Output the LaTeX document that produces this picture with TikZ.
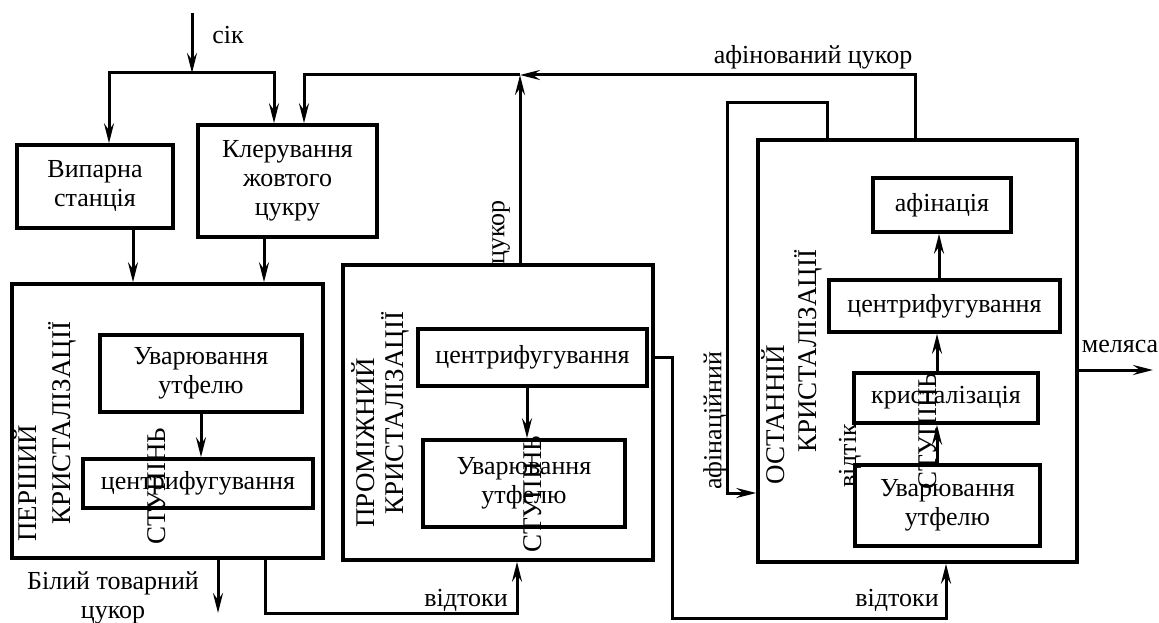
\documentclass[tikz,border=0pt]{standalone}
\usepackage{fontspec}
\setmainfont{Liberation Serif}
\usetikzlibrary{arrows.meta}

\begin{document}
\begin{tikzpicture}[x=1pt, y=-1pt, >={Stealth[length=20pt, width=10pt, inset=7pt]},
  font=\fontsize{26}{29}\selectfont,
  blok/.style={draw, line width=3.5pt, align=center, inner sep=2pt},
  potik/.style={->, line width=3pt},
  napys/.style={inner sep=0pt, align=center},
  vert/.style={rotate=90, anchor=west, inner sep=0pt, font=\fontsize{27}{30}\selectfont}]
  \useasboundingbox (0,0) rectangle (1159,623);
  % Блоки
  \node[blok, minimum width=156, minimum height=83] (vyp) at (95,186.5) {Випарна\\станція};
  \node[blok, minimum width=179, minimum height=112] (kler) at (287.5,181) {Клерування\\жовтого\\цукру};
  \node[blok, minimum width=311, minimum height=274] (st1) at (167.5,421) {};
  \node[blok, minimum width=202, minimum height=77] (uv1) at (201,373.5) {Уварювання\\утфелю};
  \node[blok, minimum width=230, minimum height=49] (cf1) at (198,483.5) {центрифугування};
  \node[blok, minimum width=310, minimum height=295] (st2) at (498,412.5) {};
  \node[blok, minimum width=229, minimum height=57] (cf2) at (532.5,357.5) {центрифугування};
  \node[blok, minimum width=202, minimum height=87] (uv2) at (524,483.5) {Уварювання\\утфелю};
  \node[blok, minimum width=319, minimum height=422] (st3) at (917.5,351) {};
  \node[blok, minimum width=138, minimum height=54] (af) at (942,205) {афінація};
  \node[blok, minimum width=231, minimum height=52] (cf3) at (944.5,306) {центрифугування};
  \node[blok, minimum width=184, minimum height=50] (kr) at (946,398) {кристалізація};
  \node[blok, minimum width=185, minimum height=81] (uv3) at (947.5,505.5) {Уварювання\\утфелю};
  % Назви ступенів
  \node[vert] (st1a) at (25,542) {ПЕРШИЙ};
  \node[vert] (st1b) at (62,525) {КРИСТАЛІЗАЦІЇ};
  \node[vert] (st1c) at (157,545) {СТУПІНЬ};
  \node[vert] (st2a) at (363,528) {ПРОМІЖНИЙ};
  \node[vert] (st2b) at (395,515) {КРИСТАЛІЗАЦІЇ};
  \node[vert] (st2c) at (533,553) {СТУПІНЬ};
  \node[vert] (st3a) at (773,485) {ОСТАННІЙ};
  \node[vert] (st3b) at (808,453) {КРИСТАЛІЗАЦІЇ};
  \node[vert] (st3c) at (928,490) {СТУПІНЬ};
  \node[vert, font=\fontsize{26}{29}\selectfont] (vidtik) at (850,488) {відтік};
  \node[vert, font=\fontsize{26}{29}\selectfont] (afin) at (715,490) {афінаційний};
  \node[vert, font=\fontsize{26}{29}\selectfont] (cukor) at (501,265) {цукор};
  % Підписи
  \node[napys] (sikl) at (228,35) {сік};
  \node[napys] (afc) at (813,57) {афінований цукор};
  \node[napys] (bil) at (113,598) {Білий товарний\\цукор};
  \node[napys] (vt1) at (466,600) {відтоки};
  \node[napys] (vt2) at (897,600) {відтоки};
  \node[napys] (mell) at (1120,346) {меляса};
  % Точки
  \coordinate (sik) at (192,13);
  \coordinate (j1) at (192,73);
  \coordinate (j2) at (520,75);
  \coordinate (a1) at (727,103);
  \coordinate (a2) at (727,493);
  \coordinate (v2) at (672,618);
  \coordinate (bilyj) at (218,613);
  \coordinate (mel) at (1153,370);
  % Сік
  \draw[potik] (sik) -- (j1);
  \draw[potik] (j1) -| ([xshift=14pt]vyp.north);
  \draw[potik] (j1) -| ([xshift=-13.5pt]kler.north);
  % Цукор і афінований цукор
  \draw[potik] ([xshift=-2.5pt]st3.north) |- (j2);
  \draw[potik] ([xshift=22pt]st2.north) -- (j2);
  \draw[potik] (j2) -| ([xshift=16.5pt]kler.north);
  % Перший ступінь
  \draw[potik] ([xshift=38pt]vyp.south) coordinate (p1) -- (p1 |- st1.north);
  \draw[potik] ([xshift=-23.5pt]kler.south) coordinate (p2) -- (p2 |- st1.north);
  \draw[potik] (uv1.south) -- (uv1.south |- cf1.north);
  \draw[potik] ([xshift=50.5pt]st1.south) -- (bilyj);
  \draw[potik] ([xshift=97.5pt]st1.south) -- ++(0,54) -| ([xshift=19pt]st2.south);
  % Проміжний ступінь
  \draw[potik] ([xshift=-5.5pt]cf2.south) coordinate (p3) -- (p3 |- uv2.north);
  \draw[potik] (st2.east |- cf2) -| (v2) -| ([xshift=28.5pt]st3.south);
  % Останній ступінь
  \draw[potik] ([xshift=-90.5pt]st3.north) |- (a1) -- (a2) -- (a2 -| st3.west);
  \draw[potik] ([xshift=-10.5pt]uv3.north) coordinate (p4) -- (p4 |- kr.south);
  \draw[potik] ([xshift=-9pt]kr.north) coordinate (p5) -- (p5 |- cf3.south);
  \draw[potik] ([xshift=-5.5pt]cf3.north) coordinate (p6) -- (p6 |- af.south);
  \draw[potik] (st3.east |- mel) -- (mel);
\end{tikzpicture}
\end{document}
